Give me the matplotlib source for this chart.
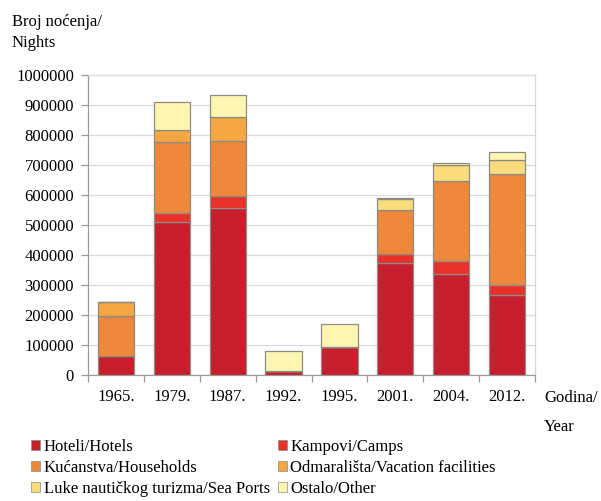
import matplotlib
matplotlib.use('Agg')
import matplotlib.pyplot as plt
from matplotlib.ticker import MultipleLocator, FixedLocator
from matplotlib.patches import Patch
import numpy as np

plt.rcParams['font.family'] = ['Liberation Serif', 'DejaVu Serif']

# data
years = ['1965.', '1979.', '1987.', '1992.', '1995.', '2001.', '2004.', '2012.']
hotels = [64000, 509000, 556000, 13000, 94000, 372000, 336000, 267000]
camps = [0, 30000, 41000, 0, 0, 30000, 44000, 33000]
households = [133000, 237000, 184000, 0, 0, 148000, 267000, 370000]
vacation = [47000, 41000, 78000, 0, 0, 0, 0, 0]
sea_ports = [0, 0, 0, 0, 0, 37000, 53000, 47000]
other = [0, 94000, 74000, 66000, 75000, 2000, 6000, 27000]

series = [
    ('Hoteli/Hotels', hotels, '#c81f2e'),
    ('Kampovi/Camps', camps, '#e8312b'),
    ('Kućanstva/Households', households, '#f0883b'),
    ('Odmarališta/Vacation facilities', vacation, '#f6a744'),
    ('Luke nautičkog turizma/Sea Ports', sea_ports, '#fbdc7c'),
    ('Ostalo/Other', other, '#fdf5b2'),
]

fs = 12

fig = plt.figure(figsize=(6.01, 5.01), dpi=100)
ax = fig.add_axes([88 / 601, 1 - 375 / 501, (535 - 88) / 601, 300 / 501])

x = np.arange(len(years))
bottom = np.zeros(len(years))
for name, vals, col in series:
    vals = np.array(vals, dtype=float)
    ax.bar(x, vals, 0.65, bottom=bottom, color=col, edgecolor='#8e8c80', linewidth=0.9, label=name, zorder=3)
    bottom += vals

# axes formatting
ax.set_ylim(0, 1000000)
ax.set_xlim(-0.5, len(years) - 0.5)
ax.yaxis.set_major_locator(MultipleLocator(100000))
ax.yaxis.set_major_formatter(matplotlib.ticker.FuncFormatter(lambda v, p: '%d' % v))
ax.grid(axis='y', color='#dcdcdc', lw=0.9, zorder=0)
ax.set_xticks(x)
ax.set_xticklabels(years)
ax.xaxis.set_minor_locator(FixedLocator(np.arange(-0.5, len(years), 1.0)))
ax.tick_params(axis='x', which='major', length=0, pad=10, labelsize=fs)
ax.tick_params(axis='x', which='minor', length=5, color='#9a9a9a', width=0.9)
ax.tick_params(axis='y', length=5, color='#9a9a9a', width=0.9, pad=5, labelsize=fs)

for s in ['left', 'bottom']:
    ax.spines[s].set_color('#9a9a9a')
ax.spines['right'].set_color('#d8d8d8')
ax.spines['top'].set_color('#dcdcdc')
for s in ax.spines.values():
    s.set_linewidth(0.9)

fig.text(12 / 601, 1 - 22 / 501, 'Broj noćenja/', fontsize=fs, va='center', ha='left')
fig.text(12 / 601, 1 - 43 / 501, 'Nights', fontsize=fs, va='center', ha='left')
fig.text(544 / 601, 1 - 398 / 501, 'Godina/', fontsize=fs, va='center', ha='left')
fig.text(544 / 601, 1 - 427 / 501, 'Year', fontsize=fs, va='center', ha='left')

# legend: rows as in the picture
order = [0, 2, 4, 1, 3, 5]
handles = [Patch(facecolor=series[i][2], edgecolor='#8e8c80', linewidth=0.5) for i in order]
labels = [series[i][0] for i in order]
fig.legend(handles, labels, ncol=2, loc='upper left', bbox_to_anchor=(31 / 601, 1 - 439 / 501),
           frameon=False, fontsize=fs, handlelength=0.55, handleheight=0.55, handletextpad=0.2,
           columnspacing=0.5, labelspacing=0.3, borderpad=0, borderaxespad=0)

fig.savefig('out.png', dpi=100)
